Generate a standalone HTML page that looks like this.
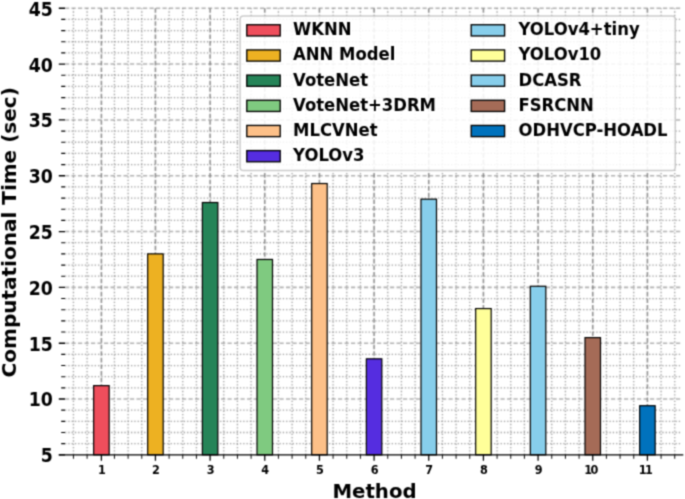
<!DOCTYPE html><html><head><meta charset="utf-8"><title>Computational Time</title>
<style>html,body{margin:0;padding:0;background:#fff;overflow:hidden}svg{display:block;}text{font-family:"DejaVu Sans","Liberation Sans",sans-serif;font-weight:bold;fill:#000}</style></head><body>
<svg width="685" height="499" viewBox="0 0 685 499">
<defs><filter id="gb" filterUnits="userSpaceOnUse" x="0" y="0" width="685" height="499" color-interpolation-filters="sRGB"><feConvolveMatrix order="3" kernelMatrix="0.00360 0.05280 0.00360 0.05280 0.77440 0.05280 0.00360 0.05280 0.00360" divisor="1" edgeMode="duplicate" preserveAlpha="true"/></filter><filter id="ab" filterUnits="userSpaceOnUse" x="0" y="0" width="685" height="499" color-interpolation-filters="sRGB"><feConvolveMatrix order="3" kernelMatrix="0.04000 0.12000 0.04000 0.12000 0.36000 0.12000 0.04000 0.12000 0.04000" divisor="1" edgeMode="duplicate" preserveAlpha="true"/></filter></defs>
<g filter="url(#ab)">
<rect x="-5" y="-5" width="695" height="509" fill="#fff"/>
<g filter="url(#gb)"><rect x="-5" y="-5" width="695" height="509" fill="#fff"/>
<g stroke="#808080" stroke-opacity="0.8" stroke-width="1.3" stroke-dasharray="1.3 2.0" fill="none">
<path d="M73.44 454.85V8.25"/>
<path d="M87.10 454.85V8.25"/>
<path d="M114.44 454.85V8.25"/>
<path d="M128.10 454.85V8.25"/>
<path d="M141.77 454.85V8.25"/>
<path d="M169.10 454.85V8.25"/>
<path d="M182.77 454.85V8.25"/>
<path d="M196.43 454.85V8.25"/>
<path d="M223.76 454.85V8.25"/>
<path d="M237.43 454.85V8.25"/>
<path d="M251.10 454.85V8.25"/>
<path d="M278.43 454.85V8.25"/>
<path d="M292.09 454.85V8.25"/>
<path d="M305.76 454.85V8.25"/>
<path d="M333.09 454.85V8.25"/>
<path d="M346.76 454.85V8.25"/>
<path d="M360.42 454.85V8.25"/>
<path d="M387.76 454.85V8.25"/>
<path d="M401.42 454.85V8.25"/>
<path d="M415.09 454.85V8.25"/>
<path d="M442.42 454.85V8.25"/>
<path d="M456.09 454.85V8.25"/>
<path d="M469.75 454.85V8.25"/>
<path d="M497.08 454.85V8.25"/>
<path d="M510.75 454.85V8.25"/>
<path d="M524.42 454.85V8.25"/>
<path d="M551.75 454.85V8.25"/>
<path d="M565.41 454.85V8.25"/>
<path d="M579.08 454.85V8.25"/>
<path d="M606.41 454.85V8.25"/>
<path d="M620.08 454.85V8.25"/>
<path d="M633.74 454.85V8.25"/>
<path d="M661.08 454.85V8.25"/>
<path d="M674.74 454.85V8.25"/>
<path d="M65.00 443.69H681.60"/>
<path d="M65.00 432.52H681.60"/>
<path d="M65.00 421.36H681.60"/>
<path d="M65.00 410.19H681.60"/>
<path d="M65.00 387.86H681.60"/>
<path d="M65.00 376.70H681.60"/>
<path d="M65.00 365.53H681.60"/>
<path d="M65.00 354.37H681.60"/>
<path d="M65.00 332.04H681.60"/>
<path d="M65.00 320.87H681.60"/>
<path d="M65.00 309.71H681.60"/>
<path d="M65.00 298.54H681.60"/>
<path d="M65.00 276.21H681.60"/>
<path d="M65.00 265.05H681.60"/>
<path d="M65.00 253.88H681.60"/>
<path d="M65.00 242.72H681.60"/>
<path d="M65.00 220.39H681.60"/>
<path d="M65.00 209.22H681.60"/>
<path d="M65.00 198.06H681.60"/>
<path d="M65.00 186.89H681.60"/>
<path d="M65.00 164.56H681.60"/>
<path d="M65.00 153.40H681.60"/>
<path d="M65.00 142.23H681.60"/>
<path d="M65.00 131.07H681.60"/>
<path d="M65.00 108.74H681.60"/>
<path d="M65.00 97.57H681.60"/>
<path d="M65.00 86.41H681.60"/>
<path d="M65.00 75.24H681.60"/>
<path d="M65.00 52.91H681.60"/>
<path d="M65.00 41.75H681.60"/>
<path d="M65.00 30.58H681.60"/>
<path d="M65.00 19.42H681.60"/>
</g>
<g stroke="#707070" stroke-opacity="0.8" stroke-width="1.55" stroke-dasharray="4.6 2.0" fill="none">
<path d="M101.40 454.85V8.25"/>
<path d="M155.43 454.85V8.25"/>
<path d="M210.10 454.85V8.25"/>
<path d="M264.76 454.85V8.25"/>
<path d="M319.43 454.85V8.25"/>
<path d="M374.09 454.85V8.25"/>
<path d="M428.75 454.85V8.25"/>
<path d="M483.42 454.85V8.25"/>
<path d="M538.08 454.85V8.25"/>
<path d="M592.75 454.85V8.25"/>
<path d="M647.41 454.85V8.25"/>
</g>
<g stroke="#808080" stroke-opacity="0.62" stroke-width="1.55" stroke-dasharray="4.2 2.3" fill="none">
<path d="M65.00 399.03H681.60"/>
<path d="M65.00 343.20H681.60"/>
<path d="M65.00 287.38H681.60"/>
<path d="M65.00 231.55H681.60"/>
<path d="M65.00 175.73H681.60"/>
<path d="M65.00 119.90H681.60"/>
<path d="M65.00 64.08H681.60"/>
<path d="M65.00 8.25H681.60"/>
</g>
</g>
<g stroke="#000" stroke-width="1.2">
<rect x="93.65" y="385.63" width="15.50" height="69.22" fill="#EF4E5C"/>
<rect x="147.68" y="253.88" width="15.50" height="200.97" fill="#EDB122"/>
<rect x="202.35" y="202.52" width="15.50" height="252.33" fill="#258458"/>
<rect x="257.01" y="259.46" width="15.50" height="195.39" fill="#7FCA80"/>
<rect x="311.68" y="183.54" width="15.50" height="271.31" fill="#FDC088"/>
<rect x="366.34" y="358.83" width="15.50" height="96.02" fill="#552DE0"/>
<rect x="421.00" y="199.17" width="15.50" height="255.68" fill="#87CEEB"/>
<rect x="475.67" y="308.59" width="15.50" height="146.26" fill="#FFFF99"/>
<rect x="530.33" y="286.26" width="15.50" height="168.59" fill="#87CEEB"/>
<rect x="585.00" y="337.62" width="15.50" height="117.23" fill="#A56B57"/>
<rect x="639.66" y="405.72" width="15.50" height="49.13" fill="#0072BD"/>
</g>
<g stroke="#000" fill="none">
<path stroke-width="1.25" d="M58.80 454.85H683.30"/>
<path stroke-width="1.25" d="M101.40 454.85v5.9M155.43 454.85v5.9M210.10 454.85v5.9M264.76 454.85v5.9M319.43 454.85v5.9M374.09 454.85v5.9M428.75 454.85v5.9M483.42 454.85v5.9M538.08 454.85v5.9M592.75 454.85v5.9M647.41 454.85v5.9"/>
<path stroke-width="0.95" d="M73.44 454.85v3.9M87.10 454.85v3.9M114.44 454.85v3.9M128.10 454.85v3.9M141.77 454.85v3.9M169.10 454.85v3.9M182.77 454.85v3.9M196.43 454.85v3.9M223.76 454.85v3.9M237.43 454.85v3.9M251.10 454.85v3.9M278.43 454.85v3.9M292.09 454.85v3.9M305.76 454.85v3.9M333.09 454.85v3.9M346.76 454.85v3.9M360.42 454.85v3.9M387.76 454.85v3.9M401.42 454.85v3.9M415.09 454.85v3.9M442.42 454.85v3.9M456.09 454.85v3.9M469.75 454.85v3.9M497.08 454.85v3.9M510.75 454.85v3.9M524.42 454.85v3.9M551.75 454.85v3.9M565.41 454.85v3.9M579.08 454.85v3.9M606.41 454.85v3.9M620.08 454.85v3.9M633.74 454.85v3.9M661.08 454.85v3.9M674.74 454.85v3.9"/>
<path stroke-width="1.35" d="M65.00 454.85h-6.2M65.00 399.03h-6.2M65.00 343.20h-6.2M65.00 287.38h-6.2M65.00 231.55h-6.2M65.00 175.73h-6.2M65.00 119.90h-6.2M65.00 64.08h-6.2M65.00 8.25h-6.2"/>
<path stroke-width="1.15" d="M65.00 443.69h-3.8M65.00 432.52h-3.8M65.00 421.36h-3.8M65.00 410.19h-3.8M65.00 387.86h-3.8M65.00 376.70h-3.8M65.00 365.53h-3.8M65.00 354.37h-3.8M65.00 332.04h-3.8M65.00 320.87h-3.8M65.00 309.71h-3.8M65.00 298.54h-3.8M65.00 276.21h-3.8M65.00 265.05h-3.8M65.00 253.88h-3.8M65.00 242.72h-3.8M65.00 220.39h-3.8M65.00 209.22h-3.8M65.00 198.06h-3.8M65.00 186.89h-3.8M65.00 164.56h-3.8M65.00 153.40h-3.8M65.00 142.23h-3.8M65.00 131.07h-3.8M65.00 108.74h-3.8M65.00 97.57h-3.8M65.00 86.41h-3.8M65.00 75.24h-3.8M65.00 52.91h-3.8M65.00 41.75h-3.8M65.00 30.58h-3.8M65.00 19.42h-3.8"/>
</g>
<text transform="translate(52.80 462.28) scale(0.862 1)" font-size="20.1" text-anchor="end">5</text>
<text transform="translate(52.80 406.45) scale(0.862 1)" font-size="20.1" text-anchor="end">10</text>
<text transform="translate(52.80 350.63) scale(0.862 1)" font-size="20.1" text-anchor="end">15</text>
<text transform="translate(52.80 294.80) scale(0.862 1)" font-size="20.1" text-anchor="end">20</text>
<text transform="translate(52.80 238.98) scale(0.862 1)" font-size="20.1" text-anchor="end">25</text>
<text transform="translate(52.80 183.15) scale(0.862 1)" font-size="20.1" text-anchor="end">30</text>
<text transform="translate(52.80 127.33) scale(0.862 1)" font-size="20.1" text-anchor="end">35</text>
<text transform="translate(52.80 71.50) scale(0.862 1)" font-size="20.1" text-anchor="end">40</text>
<text transform="translate(52.80 15.68) scale(0.862 1)" font-size="20.1" text-anchor="end">45</text>
<text transform="translate(101.90 473.60) scale(0.88 1)" font-size="12.8" text-anchor="middle">1</text>
<text transform="translate(155.93 473.60) scale(0.88 1)" font-size="12.8" text-anchor="middle">2</text>
<text transform="translate(210.60 473.60) scale(0.88 1)" font-size="12.8" text-anchor="middle">3</text>
<text transform="translate(265.26 473.60) scale(0.88 1)" font-size="12.8" text-anchor="middle">4</text>
<text transform="translate(319.93 473.60) scale(0.88 1)" font-size="12.8" text-anchor="middle">5</text>
<text transform="translate(374.59 473.60) scale(0.88 1)" font-size="12.8" text-anchor="middle">6</text>
<text transform="translate(429.25 473.60) scale(0.88 1)" font-size="12.8" text-anchor="middle">7</text>
<text transform="translate(483.92 473.60) scale(0.88 1)" font-size="12.8" text-anchor="middle">8</text>
<text transform="translate(538.58 473.60) scale(0.88 1)" font-size="12.8" text-anchor="middle">9</text>
<text transform="translate(590.45 473.60) scale(0.88 1)" font-size="12.8" text-anchor="middle" letter-spacing="-1.8">10</text>
<text transform="translate(645.11 473.60) scale(0.88 1)" font-size="12.8" text-anchor="middle" letter-spacing="-1.8">11</text>
<text transform="translate(374.50 497.50) scale(1.015 1)" font-size="19.44" text-anchor="middle">Method</text>
<text transform="translate(16.00 232.30) rotate(-90) scale(1.03 1)" font-size="19.44" text-anchor="middle">Computational Time (sec)</text>
<rect x="240.1" y="16.0" width="435.2" height="154.6" rx="3.3" fill="#fff" fill-opacity="0.87" stroke="#c6c6c6" stroke-opacity="0.9" stroke-width="1.5"/>
<g stroke="#000" stroke-width="1.35">
<rect x="246.8" y="24.75" width="33.4" height="11.2" fill="#EF4E5C"/>
<rect x="246.8" y="49.92" width="33.4" height="11.2" fill="#EDB122"/>
<rect x="246.8" y="75.09" width="33.4" height="11.2" fill="#258458"/>
<rect x="246.8" y="100.26" width="33.4" height="11.2" fill="#7FCA80"/>
<rect x="246.8" y="125.43" width="33.4" height="11.2" fill="#FDC088"/>
<rect x="246.8" y="150.60" width="33.4" height="11.2" fill="#552DE0"/>
<rect x="471.2" y="24.75" width="33.4" height="11.2" fill="#87CEEB"/>
<rect x="471.2" y="49.92" width="33.4" height="11.2" fill="#FFFF99"/>
<rect x="471.2" y="75.09" width="33.4" height="11.2" fill="#87CEEB"/>
<rect x="471.2" y="100.26" width="33.4" height="11.2" fill="#A56B57"/>
<rect x="471.2" y="125.43" width="33.4" height="11.2" fill="#0072BD"/>
</g>
<text transform="translate(293.10 35.20) scale(0.912 1)" font-size="18.06" text-anchor="start">WKNN</text>
<text transform="translate(293.10 60.37) scale(0.912 1)" font-size="18.06" text-anchor="start">ANN Model</text>
<text transform="translate(293.10 85.54) scale(0.912 1)" font-size="18.06" text-anchor="start">VoteNet</text>
<text transform="translate(293.10 110.71) scale(0.912 1)" font-size="18.06" text-anchor="start">VoteNet+3DRM</text>
<text transform="translate(293.10 135.88) scale(0.912 1)" font-size="18.06" text-anchor="start">MLCVNet</text>
<text transform="translate(293.10 161.05) scale(0.912 1)" font-size="18.06" text-anchor="start">YOLOv3</text>
<text transform="translate(518.50 35.20) scale(0.912 1)" font-size="18.06" text-anchor="start">YOLOv4+tiny</text>
<text transform="translate(518.50 60.37) scale(0.912 1)" font-size="18.06" text-anchor="start">YOLOv10</text>
<text transform="translate(518.50 85.54) scale(0.912 1)" font-size="18.06" text-anchor="start">DCASR</text>
<text transform="translate(518.50 110.71) scale(0.912 1)" font-size="18.06" text-anchor="start">FSRCNN</text>
<text transform="translate(518.50 135.88) scale(0.912 1)" font-size="18.06" text-anchor="start">ODHVCP-HOADL</text>
</g></svg></body></html>
